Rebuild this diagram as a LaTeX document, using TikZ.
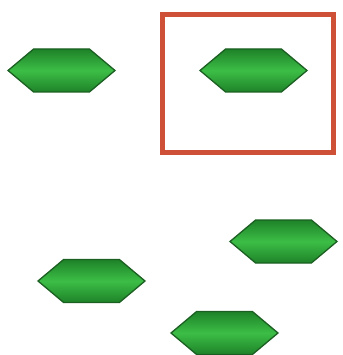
\documentclass[tikz,border=0pt]{standalone}
\usepackage{tikz}
\usetikzlibrary{shapes.symbols, positioning}

\definecolor{hexborde}{RGB}{28,95,34}
\definecolor{hexclaro}{RGB}{60,190,70}
\definecolor{hexoscuro}{RGB}{30,130,40}
\definecolor{marco}{RGB}{205,80,55}

\begin{document}
\begin{tikzpicture}[
            x=1pt, y=-1pt,
            % Estilos de los nodos
            hexa/.style={signal, signal to=east and west, signal pointer angle=80,
                         draw=hexborde, line width=1.3pt, inner sep=0pt,
                         minimum width=107pt, minimum height=43pt,
                         top color=hexoscuro, bottom color=hexoscuro, middle color=hexclaro},
            seleccion/.style={rectangle, draw=marco, line width=5pt,
                              minimum width=171pt, minimum height=138pt}
        ]
            \useasboundingbox (0,0) rectangle (342,355);

            % Fila superior
            \node[hexa] (h1) at (61.5,70.5) {};
            \node[seleccion] (sel) at (247.5,84) {};
            \node[hexa] (h2) at (253.5,70.5) {};

            % Grupo inferior
            \node[hexa] (h3) at (283.5,241.5) {};
            \node[hexa] (h4) at (91.5,281) {};
            \node[hexa] (h5) at (224.5,333) {};
        \end{tikzpicture}
\end{document}
